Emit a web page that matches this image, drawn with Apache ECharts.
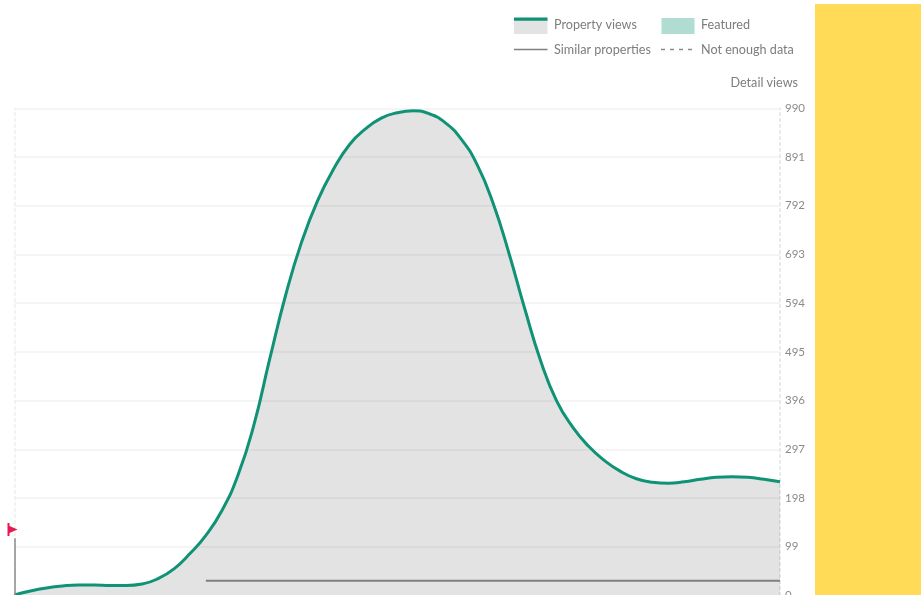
<!DOCTYPE html>
<html>
<head>
<meta charset="utf-8">
<style>html,body{margin:0;padding:0;background:#fff}#c{width:921px;height:595px}</style>
<script src="https://cdn.jsdelivr.net/npm/echarts@6/dist/echarts.min.js"></script>
</head>
<body>
<div id="c"></div>
<script>
const steps = [0,1,2,3,4,5,6,7,8,9,10,11,12,13,14,15,16,17,18,19,20,21,22,23,24,25,26,27,28,29,30,31,32,33,34,35,36,37,38,39,40,41,42,43,44,45,46,47,48];
const propertyViews = [1,9,15,19,21,21,20,20,23,34,54,85,122,172,243,345,480,610,718,802,866,916,948,970,981,985,979,961,928,876,798,696,582,476,395,342,303,274,252,237,230,228,231,236,240,241,240,236,231];
const similarProperties = [null,null,null,null,null,null,null,null,null,null,null,null,30,30,30,30,30,30,30,30,30,30,30,30,30,30,30,30,30,30,30,30,30,30,30,30,30,30,30,30,30,30,30,30,30,30,30,30,30];
const yTicks = [0,99,198,297,396,495,594,693,792,891,990];
const legendLabels = ['Property views','Featured','Similar properties','Not enough data'];
const axisTitle = 'Detail views';
const flagPoleTop = 116;
const flagLevel = 134;

const font = 'Lato, "Open Sans", sans-serif';
const txt = (x, y, text, color) => ({type:'text', x, y, style:{text, fill:color || '#7d7d7d', font:'12.6px ' + font, textVerticalAlign:'middle'}});
const chart = echarts.init(document.getElementById('c'), null, {renderer:'canvas'});
chart.setOption({
  animation:false,
  backgroundColor:'#fff',
  grid:{left:14.5, top:108.3, width:765.5, height:487.1, containLabel:false, outerBoundsMode:'none'},
  xAxis:{type:'category', data:steps, boundaryGap:false,
    axisLine:{show:false}, axisTick:{show:false}, axisLabel:{show:false}, splitLine:{show:false}},
  yAxis:[
    {type:'value', position:'right', min:0, max:990, interval:99,
      name:axisTitle, nameLocation:'end', nameGap:19,
      nameTextStyle:{color:'#7d7d7d', fontFamily:font, fontSize:12.6, align:'right', padding:[0,-18,0,0]},
      axisLine:{show:true, lineStyle:{color:'#e4e4e4', type:[3,3], width:1.5}},
      axisTick:{show:false},
      axisLabel:{color:'#8a8a8a', fontFamily:font, fontSize:11.5, margin:5,
        formatter:v => yTicks.includes(v) ? String(v) : ''},
      splitLine:{show:true, lineStyle:{color:'#f5f5f5', width:2}}},
    {type:'value', position:'left', min:0, max:990, interval:990,
      axisLine:{show:true, onZero:false, lineStyle:{color:'#eeeeee', type:[3,3], width:1.5}},
      axisTick:{show:false}, axisLabel:{show:false}, splitLine:{show:false}}
  ],
  series:[
    {name:legendLabels[0], type:'line', data:propertyViews, smooth:0.5, symbol:'none', z:3,
      lineStyle:{color:'#0f9275', width:3},
      areaStyle:{color:'#000', opacity:0.11},
      markLine:{silent:true, symbol:'none', animation:false, label:{show:false},
        lineStyle:{color:'#8a8a8a', width:1.5, type:'solid'},
        data:[[{xAxis:0,yAxis:0},{xAxis:0,yAxis:flagPoleTop}]]},
      markPoint:{silent:true, animation:false, symbol:'path://M0 0L2 0L2 3L10 6.5L2 10L2 13L0 13Z', symbolSize:[10,13], symbolOffset:[-2,0], symbolKeepAspect:false,
        itemStyle:{color:'#e5194f'}, label:{show:false},
        data:[{xAxis:0,yAxis:flagLevel}]}},
    {name:legendLabels[2], type:'line', data:similarProperties, symbol:'none', z:4,
      lineStyle:{color:'#7f7f7f', width:2}}
  ],
  graphic:{elements:[
    {type:'rect', shape:{x:815,y:4,width:106,height:591}, style:{fill:'#ffdb58'}},
    {type:'rect', shape:{x:514,y:18,width:33.5,height:16}, style:{fill:'#e3e3e3'}},
    {type:'rect', shape:{x:514,y:17.5,width:33.5,height:3.2}, style:{fill:'#0f9275'}},
    {type:'rect', shape:{x:661.5,y:18,width:33,height:16}, style:{fill:'#b0dcd1'}},
    {type:'line', shape:{x1:514,y1:49.5,x2:547.5,y2:49.5}, style:{stroke:'#808080', lineWidth:1.6}},
    {type:'line', shape:{x1:661,y1:49.5,x2:695,y2:49.5}, style:{stroke:'#8a8a8a', lineWidth:1.4, lineDash:[4,5]}},
    txt(554,24.5,legendLabels[0]),
    txt(701,24.5,legendLabels[1]),
    txt(554,49.5,legendLabels[2]),
    txt(701,49.5,legendLabels[3])
  ]}
});
</script>
</body>
</html>
